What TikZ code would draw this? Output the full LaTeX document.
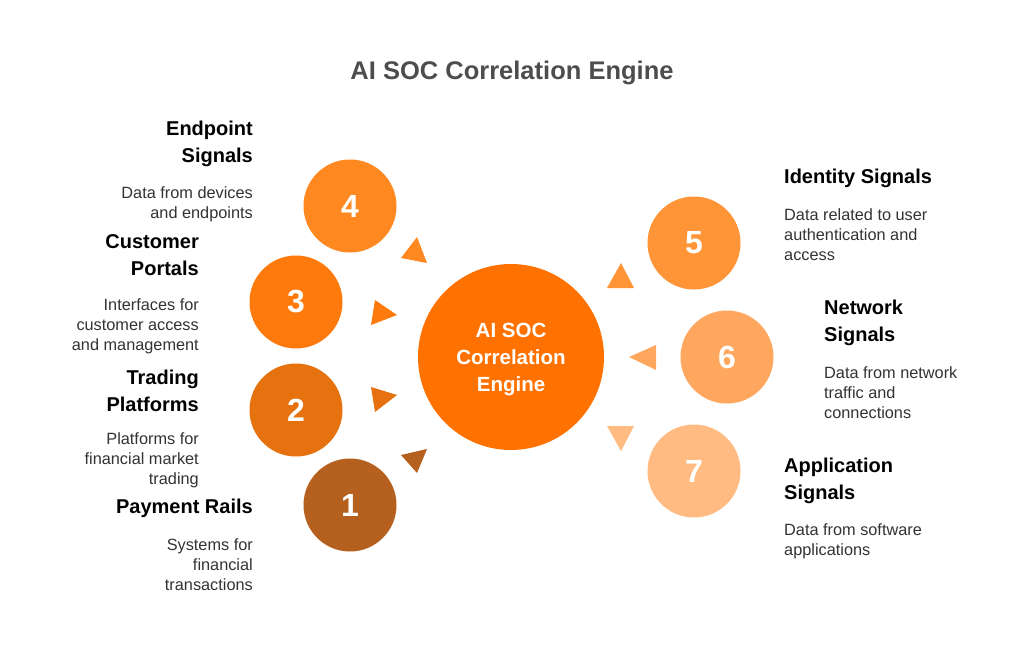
\documentclass[tikz,border=0pt]{standalone}
\usepackage{fontspec}
\setmainfont{Liberation Sans}
\definecolor{cmain}{HTML}{FF7200}
\definecolor{cone}{HTML}{B5601F}
\definecolor{ctwo}{HTML}{E5710F}
\definecolor{cthree}{HTML}{FF7A0C}
\definecolor{cfour}{HTML}{FF8820}
\definecolor{cfive}{HTML}{FF9536}
\definecolor{csix}{HTML}{FFA75E}
\definecolor{cseven}{HTML}{FFBB82}
\definecolor{titlegray}{HTML}{4D4D4D}
\definecolor{descgray}{HTML}{333333}
\begin{document}
\begin{tikzpicture}[x=1pt,y=-1pt,
  numc/.style={circle, minimum size=93pt, inner sep=0pt, text=white, font=\bfseries\fontsize{32}{32}\selectfont},
  head/.style={font=\bfseries\fontsize{20}{27}\selectfont, text=black, inner sep=0pt},
  desc/.style={font=\fontsize{16.3}{20}\selectfont, text=descgray, inner sep=0pt},
  tri/.style={draw=none}]
\useasboundingbox[fill=white] (0,0) rectangle (1024,647);
% title
\node[font=\bfseries\fontsize{25.5}{25.5}\selectfont, text=titlegray] (title) at (512,73) {AI SOC Correlation Engine};
% center
\node[circle, minimum size=186pt, inner sep=0pt, fill=cmain] (eng) at (511,357) {};
\node[text=white, align=center, inner sep=0pt,
  font=\bfseries\fontsize{20.5}{27}\selectfont] (engt) at (511,360) {AI SOC\\Correlation\\Engine};
% circles
\node[numc, fill=cfour] (n4) at (350,206) {4};
\node[numc, fill=cthree] (n3) at (296,302) {3};
\node[numc, fill=ctwo] (n2) at (296,410) {2};
\node[numc, fill=cone] (n1) at (350,505) {1};
\node[numc, fill=cfive] (n5) at (694,243) {5};
\node[numc, fill=csix] (n6) at (727,357) {6};
\node[numc, fill=cseven] (n7) at (694,471) {7};
% triangles
\fill[cfour] (417,237) -- (401,258) -- (427,263) -- cycle;
\fill[cthree] (375,300) -- (397,315) -- (371,325) -- cycle;
\fill[ctwo] (371,387) -- (397,395) -- (375,412) -- cycle;
\fill[cone] (401,455) -- (427,449) -- (417,473) -- cycle;
\fill[cfive] (621,263) -- (634,288) -- (607,288) -- cycle;
\fill[csix] (629,357) -- (656,345) -- (656,370) -- cycle;
\fill[cseven] (607,426) -- (634,426) -- (621,451) -- cycle;
% left texts
\node[head, anchor=east, align=right] (h4) at (253,143.5) {Endpoint\\Signals};
\node[desc, anchor=east, align=right] (d4) at (253,204) {Data from devices\\and endpoints};
\node[head, anchor=east, align=right] (h3) at (199,255.5) {Customer\\Portals};
\node[desc, anchor=east, align=right] (d3) at (199,326) {Interfaces for\\customer access\\and management};
\node[head, anchor=east, align=right] (h2) at (199,390.5) {Trading\\Platforms};
\node[desc, anchor=east, align=right] (d2) at (199,460) {Platforms for\\financial market\\trading};
\node[head, anchor=east, align=right] (h1) at (253,508) {Payment Rails};
\node[desc, anchor=east, align=right] (d1) at (253,565) {Systems for\\financial\\transactions};
% right texts
\node[head, anchor=west, align=left] (h5) at (784,178) {Identity Signals};
\node[desc, anchor=west, align=left] (d5) at (784,235) {Data related to user\\authentication and\\access};
\node[head, anchor=west, align=left] (h6) at (824,322.5) {Network\\Signals};
\node[desc, anchor=west, align=left] (d6) at (824,393) {Data from network\\traffic and\\connections};
\node[head, anchor=west, align=left] (h7) at (784,480.5) {Application\\Signals};
\node[desc, anchor=west, align=left] (d7) at (784,541) {Data from software\\applications};
\end{tikzpicture}
\end{document}
